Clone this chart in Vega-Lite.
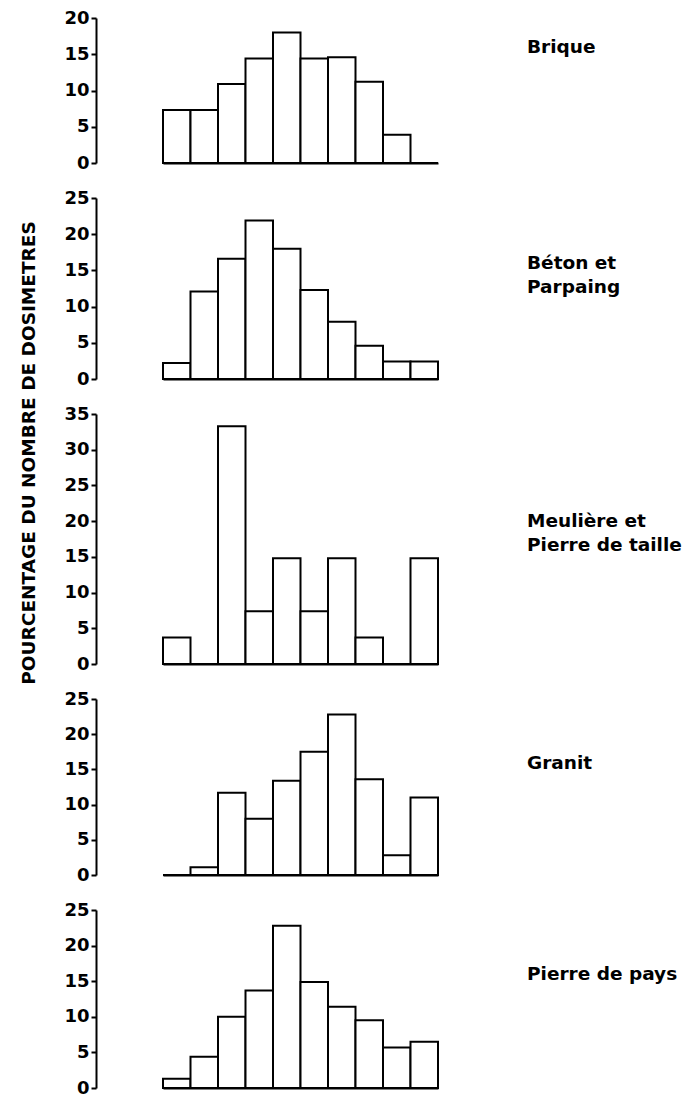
{
  "$schema": "https://vega.github.io/schema/vega-lite/v6.json",
  "background": "white",
  "padding": {"left": 20, "top": 9, "right": 0, "bottom": 0},
  "autosize": {"type": "pad"},
  "bounds": "flush",
  "spacing": 35,
  "title": {
    "text": "POURCENTAGE DU NOMBRE DE DOSIMETRES",
    "orient": "left",
    "anchor": "middle",
    "font": "DejaVu Sans",
    "fontSize": 18.5,
    "fontWeight": "bold",
    "color": "black",
    "dx": 100,
    "offset": 25
  },
  "data": {
    "values": [
      {"materiau": "Brique", "classe": 1, "pct": 7.3},
      {"materiau": "Brique", "classe": 2, "pct": 7.3},
      {"materiau": "Brique", "classe": 3, "pct": 10.9},
      {"materiau": "Brique", "classe": 4, "pct": 14.4},
      {"materiau": "Brique", "classe": 5, "pct": 18.0},
      {"materiau": "Brique", "classe": 6, "pct": 14.4},
      {"materiau": "Brique", "classe": 7, "pct": 14.6},
      {"materiau": "Brique", "classe": 8, "pct": 11.2},
      {"materiau": "Brique", "classe": 9, "pct": 3.9},
      {"materiau": "Brique", "classe": 10, "pct": 0},
      {"materiau": "Béton", "classe": 1, "pct": 2.2},
      {"materiau": "Béton", "classe": 2, "pct": 12.1},
      {"materiau": "Béton", "classe": 3, "pct": 16.6},
      {"materiau": "Béton", "classe": 4, "pct": 21.9},
      {"materiau": "Béton", "classe": 5, "pct": 18.0},
      {"materiau": "Béton", "classe": 6, "pct": 12.3},
      {"materiau": "Béton", "classe": 7, "pct": 7.9},
      {"materiau": "Béton", "classe": 8, "pct": 4.6},
      {"materiau": "Béton", "classe": 9, "pct": 2.4},
      {"materiau": "Béton", "classe": 10, "pct": 2.4},
      {"materiau": "Meulière", "classe": 1, "pct": 3.7},
      {"materiau": "Meulière", "classe": 2, "pct": 0},
      {"materiau": "Meulière", "classe": 3, "pct": 33.3},
      {"materiau": "Meulière", "classe": 4, "pct": 7.4},
      {"materiau": "Meulière", "classe": 5, "pct": 14.8},
      {"materiau": "Meulière", "classe": 6, "pct": 7.4},
      {"materiau": "Meulière", "classe": 7, "pct": 14.8},
      {"materiau": "Meulière", "classe": 8, "pct": 3.7},
      {"materiau": "Meulière", "classe": 9, "pct": 0},
      {"materiau": "Meulière", "classe": 10, "pct": 14.8},
      {"materiau": "Granit", "classe": 1, "pct": 0},
      {"materiau": "Granit", "classe": 2, "pct": 1.1},
      {"materiau": "Granit", "classe": 3, "pct": 11.7},
      {"materiau": "Granit", "classe": 4, "pct": 8.0},
      {"materiau": "Granit", "classe": 5, "pct": 13.4},
      {"materiau": "Granit", "classe": 6, "pct": 17.5},
      {"materiau": "Granit", "classe": 7, "pct": 22.8},
      {"materiau": "Granit", "classe": 8, "pct": 13.6},
      {"materiau": "Granit", "classe": 9, "pct": 2.8},
      {"materiau": "Granit", "classe": 10, "pct": 11.0},
      {"materiau": "Pays", "classe": 1, "pct": 1.3},
      {"materiau": "Pays", "classe": 2, "pct": 4.4},
      {"materiau": "Pays", "classe": 3, "pct": 10.0},
      {"materiau": "Pays", "classe": 4, "pct": 13.7},
      {"materiau": "Pays", "classe": 5, "pct": 22.8},
      {"materiau": "Pays", "classe": 6, "pct": 14.9},
      {"materiau": "Pays", "classe": 7, "pct": 11.4},
      {"materiau": "Pays", "classe": 8, "pct": 9.5},
      {"materiau": "Pays", "classe": 9, "pct": 5.7},
      {"materiau": "Pays", "classe": 10, "pct": 6.5}
    ]
  },
  "config": {
    "view": {"stroke": null},
    "title": {
      "font": "DejaVu Sans",
      "fontSize": 18.5,
      "fontWeight": "bold",
      "color": "black",
      "orient": "top",
      "anchor": "end",
      "baseline": "middle",
      "offset": 0,
      "lineHeight": 24
    },
    "axisY": {
      "offset": 67,
      "domainColor": "black",
      "domainWidth": 2,
      "tickColor": "black",
      "tickWidth": 2,
      "tickSize": 5,
      "labelFont": "DejaVu Sans",
      "labelFontSize": 18,
      "labelFontWeight": "bold",
      "labelColor": "black",
      "labelPadding": 2,
      "grid": false,
      "title": null
    },
    "axisX": {
      "labels": false,
      "ticks": false,
      "title": null,
      "domainColor": "black",
      "domainWidth": 2,
      "grid": false
    },
    "bar": {"fill": "white", "stroke": "black", "strokeWidth": 2}
  },
  "vconcat": [
    {
      "width": 275,
      "height": 145,
      "title": {"text": "Brique", "align": "left", "dx": 88, "dy": 51},
      "transform": [{"filter": "datum.materiau == 'Brique'"}],
      "mark": "bar",
      "encoding": {
        "x": {"field": "classe", "type": "ordinal", "scale": {"paddingInner": 0, "paddingOuter": 0}},
        "y": {"field": "pct", "type": "quantitative", "scale": {"domain": [0, 20]}, "axis": {"values": [0, 5, 10, 15, 20]}}
      }
    },
    {
      "width": 275,
      "height": 181,
      "title": {"text": ["Béton et", "Parpaing"], "align": "left", "dx": 88, "dy": 111},
      "transform": [{"filter": "datum.materiau == 'Béton'"}],
      "mark": "bar",
      "encoding": {
        "x": {"field": "classe", "type": "ordinal", "scale": {"paddingInner": 0, "paddingOuter": 0}},
        "y": {"field": "pct", "type": "quantitative", "scale": {"domain": [0, 25]}, "axis": {"values": [0, 5, 10, 15, 20, 25]}}
      }
    },
    {
      "width": 275,
      "height": 250,
      "title": {"text": ["Meulière et", "Pierre de taille"], "align": "left", "dx": 88, "dy": 153},
      "transform": [{"filter": "datum.materiau == 'Meulière'"}],
      "mark": "bar",
      "encoding": {
        "x": {"field": "classe", "type": "ordinal", "scale": {"paddingInner": 0, "paddingOuter": 0}},
        "y": {"field": "pct", "type": "quantitative", "scale": {"domain": [0, 35]}, "axis": {"values": [0, 5, 10, 15, 20, 25, 30, 35]}}
      }
    },
    {
      "width": 275,
      "height": 176,
      "title": {"text": "Granit", "align": "left", "dx": 88, "dy": 86},
      "transform": [{"filter": "datum.materiau == 'Granit'"}],
      "mark": "bar",
      "encoding": {
        "x": {"field": "classe", "type": "ordinal", "scale": {"paddingInner": 0, "paddingOuter": 0}},
        "y": {"field": "pct", "type": "quantitative", "scale": {"domain": [0, 25]}, "axis": {"values": [0, 5, 10, 15, 20, 25]}}
      }
    },
    {
      "width": 275,
      "height": 178,
      "title": {"text": "Pierre de pays", "align": "left", "dx": 88, "dy": 86},
      "transform": [{"filter": "datum.materiau == 'Pays'"}],
      "mark": "bar",
      "encoding": {
        "x": {"field": "classe", "type": "ordinal", "scale": {"paddingInner": 0, "paddingOuter": 0}},
        "y": {"field": "pct", "type": "quantitative", "scale": {"domain": [0, 25]}, "axis": {"values": [0, 5, 10, 15, 20, 25]}}
      }
    }
  ]
}
